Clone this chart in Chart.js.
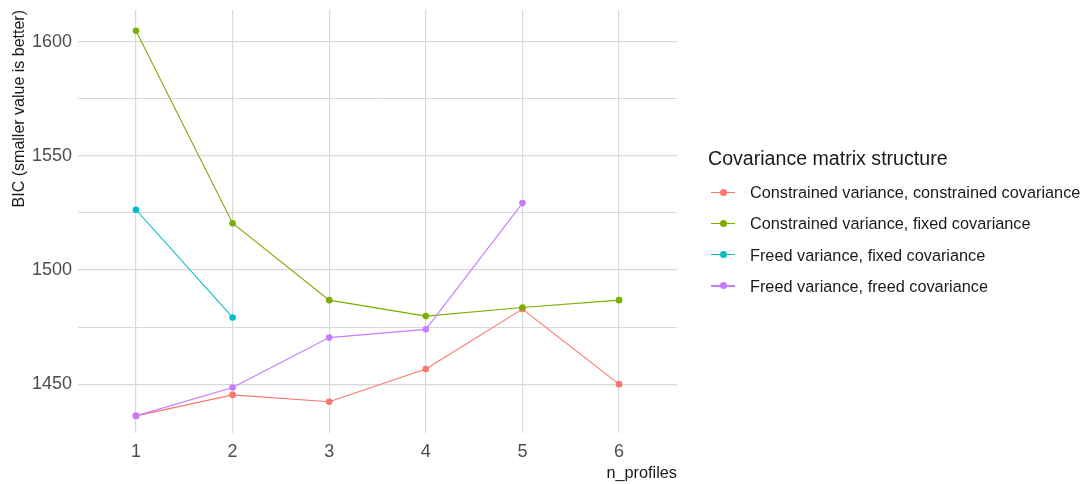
<!DOCTYPE html>
<html>
<head>
<meta charset="utf-8">
<script src="https://cdn.jsdelivr.net/npm/chart.js@4.4.1/dist/chart.umd.min.js"></script>
<style>
  body { margin: 0; background: #fff; font-family: "Liberation Sans", Arial, sans-serif; }
  #wrap { position: relative; width: 1089px; height: 484px; }
  #legend { position: absolute; left: 708px; top: 146px; color: #1a1a1a; }
  #legend .title { font-size: 19.6px; height: 24px; line-height: 24px; margin-bottom: 12px; }
  #legend .item { position: relative; height: 31.3px; font-size: 16.3px; }
  #legend .item .key { position: absolute; left: 3px; top: 0; width: 24px; height: 20px; }
  #legend .item .key i { position: absolute; left: 0; top: 9.5px; width: 24px; height: 1.2px; }
  #legend .item .key b { position: absolute; left: 8.5px; top: 6.5px; width: 7px; height: 7px; border-radius: 50%; }
  #legend .item span { position: absolute; left: 42px; top: 0; line-height: 20px; white-space: nowrap; }
</style>
</head>
<body>
<div id="wrap">
  <canvas id="chart" width="1089" height="484"></canvas>
  <div id="legend"></div>
</div>
<script>
// values
const nProfiles = [1, 2, 3, 4, 5, 6];
const seriesNames = [
    'Constrained variance, constrained covariance',
    'Constrained variance, fixed covariance',
    'Freed variance, fixed covariance',
    'Freed variance, freed covariance'
];
const constrainedConstrained = [1436.1, 1445.3, 1442.3, 1456.6, 1482.9, 1450.0];
const constrainedFixed = [1604.8, 1520.5, 1486.8, 1479.8, 1483.6, 1486.8];
const freedFixed = [1526.4, 1479.2];
const freedFreed = [1436.1, 1448.5, 1470.4, 1474.0, 1529.3];
const seriesColors = ['#F8766D', '#7CAE00', '#00BFC4', '#C77CFF'];
const xTicks = [1, 2, 3, 4, 5, 6];
const yMajorTicks = [1450, 1500, 1550, 1600];
const yMinorTicks = [1475, 1525, 1575];

const allSeries = [constrainedConstrained, constrainedFixed, freedFixed, freedFreed];

function toPoints(values) {
    return values.map((v, i) => ({x: nProfiles[i], y: v}));
}

const datasets = allSeries.map((values, i) => ({
    label: seriesNames[i],
    data: toPoints(values),
    borderColor: seriesColors[i],
    backgroundColor: seriesColors[i],
    borderWidth: 1.1,
    pointRadius: 3.3,
    pointBorderWidth: 0,
    pointHoverRadius: 3.3,
    tension: 0,
    // ggplot draws later series on top
    order: allSeries.length - i
}));

const gridColor = '#D9D9D9';
const tickColor = '#4D4D4D';

function noLabelPadding(scale) {
    scale.paddingTop = 0;
    scale.paddingBottom = 0;
    scale.paddingLeft = 0;
    scale.paddingRight = 0;
}

new Chart(document.getElementById('chart'), {
    type: 'line',
    data: {datasets: datasets},
    options: {
        responsive: false,
        animation: false,
        layout: {padding: {left: 0, top: 10, right: 412, bottom: 0}},
        plugins: {legend: {display: false}, tooltip: {enabled: false}},
        scales: {
            x: {
                type: 'linear',
                min: 0.4,
                max: 6.6,
                afterBuildTicks: (scale) => { scale.ticks = xTicks.map(v => ({value: v})); },
                afterFit: (scale) => { scale.height = 51; noLabelPadding(scale); },
                border: {display: false},
                grid: {color: gridColor, lineWidth: 1.2, drawTicks: false},
                ticks: {
                    color: tickColor,
                    padding: 8,
                    font: {family: 'Liberation Sans', size: 18},
                    callback: (v) => String(v)
                },
                title: {
                    display: true,
                    text: 'n_profiles',
                    align: 'end',
                    color: '#1a1a1a',
                    font: {family: 'Liberation Sans', size: 16.3},
                    padding: {top: 0, bottom: 1}
                }
            },
            y: {
                type: 'linear',
                min: 1428.6,
                max: 1613.9,
                afterBuildTicks: (scale) => {
                    scale.ticks = yMajorTicks.concat(yMinorTicks).sort((a, b) => a - b).map(v => ({value: v}));
                },
                afterFit: (scale) => { scale.width = 78; noLabelPadding(scale); },
                border: {display: false},
                grid: {
                    color: gridColor,
                    lineWidth: (ctx) => yMinorTicks.includes(ctx.tick && ctx.tick.value) ? 1 : 1.2,
                    drawTicks: false
                },
                ticks: {
                    color: tickColor,
                    padding: 6,
                    font: {family: 'Liberation Sans', size: 18},
                    callback: (v) => yMajorTicks.includes(v) ? String(v) : ''
                },
                title: {
                    display: true,
                    text: 'BIC (smaller value is better)',
                    align: 'end',
                    color: '#1a1a1a',
                    font: {family: 'Liberation Sans', size: 16},
                    padding: {top: 10, bottom: 0}
                }
            }
        }
    }
});

// legend, built from the same names and colours
const legend = document.getElementById('legend');
let html = '<div class="title">Covariance matrix structure</div>';
seriesNames.forEach((name, i) => {
    html += '<div class="item"><div class="key"><i style="background:' + seriesColors[i] + '"></i>'
        + '<b style="background:' + seriesColors[i] + '"></b></div><span>' + name + '</span></div>';
});
legend.innerHTML = html;
</script>
</body>
</html>
